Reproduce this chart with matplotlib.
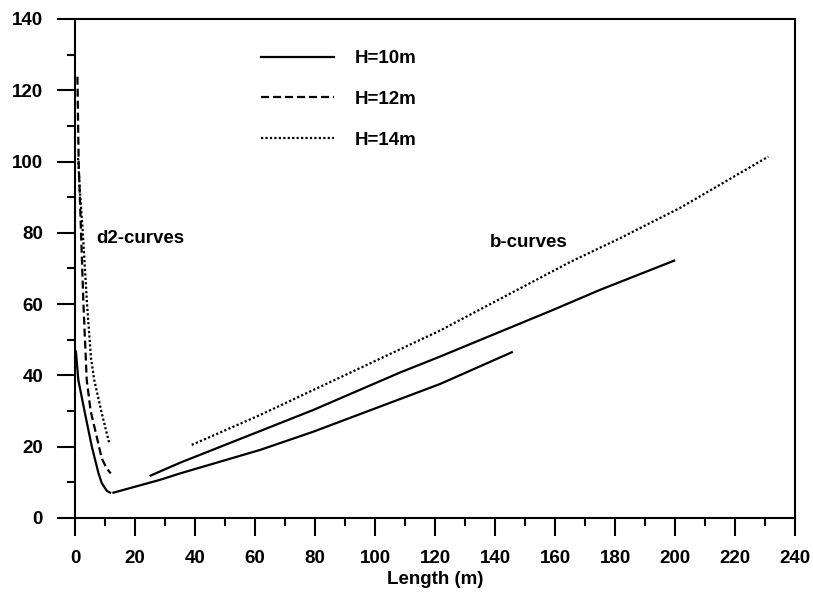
import matplotlib
matplotlib.use("Agg")
import matplotlib.pyplot as plt
from matplotlib.ticker import MultipleLocator

plt.rcParams['font.family'] = ['Liberation Sans', 'DejaVu Sans']
plt.rcParams['font.weight'] = 'bold'

# d2-curves (near x = 0)
d2_10_x = [0.3, 1.1, 3.3, 5.6, 7.8, 8.9, 10.6, 11.7]
d2_10_y = [46.7, 38.7, 29.4, 20.0, 12.6, 9.8, 7.6, 7.1]
d2_12_x = [0.8, 1.2, 2.0, 2.8, 3.9, 5.2, 6.7, 8.9, 10.5, 11.9]
d2_12_y = [123.8, 100.0, 80.0, 60.0, 38.7, 30.0, 24.7, 16.7, 14.0, 12.5]
d2_14_x = [1.0, 1.6, 2.6, 4.0, 5.3, 6.4, 8.9, 11.4]
d2_14_y = [101.0, 92.0, 80.0, 60.0, 45.0, 38.7, 29.4, 21.0]

# b-curves
b_10_x = [12.8, 28.3, 35.0, 61.7, 79.4, 121.7, 145.6]
b_10_y = [7.1, 10.7, 12.5, 19.1, 24.2, 37.6, 46.5]
b_12_x = [25.2, 35.0, 61.7, 79.4, 108.3, 121.7, 159.4, 175.0, 199.7]
b_12_y = [11.9, 15.5, 24.4, 30.3, 40.8, 45.3, 58.4, 64.0, 72.2]
b_14_x = [38.9, 61.7, 79.4, 121.7, 165.0, 181.7, 201.7, 231.1]
b_14_y = [20.5, 28.9, 35.9, 52.6, 71.8, 78.5, 87.0, 101.4]

labels = ["H=10m", "H=12m", "H=14m"]

lw = 1.6
solid = '-'
dashed = (0, (3.6, 1.8))
dotted = (0, (1, 1))

fig = plt.figure(figsize=(8.13, 5.93), dpi=100)
ax = fig.add_axes([0.0923, 0.1265, 0.8856, 0.8415])

ax.plot(d2_10_x, d2_10_y, color='black', lw=lw, ls=solid, label=labels[0])
ax.plot(d2_12_x, d2_12_y, color='black', lw=lw, ls=dashed, label=labels[1])
ax.plot(d2_14_x, d2_14_y, color='black', lw=lw, ls=dotted, label=labels[2])
ax.plot(b_10_x, b_10_y, color='black', lw=lw, ls=solid)
ax.plot(b_12_x, b_12_y, color='black', lw=lw, ls=solid)
ax.plot(b_14_x, b_14_y, color='black', lw=lw, ls=dotted)

ax.text(7, 78.3, "d2-curves", fontsize=13.5, fontweight='bold', va='center', ha='left')
ax.text(138.3, 77.4, "b-curves", fontsize=13.5, fontweight='bold', va='center', ha='left')

ax.set_xlim(0, 240)
ax.set_ylim(0, 140)
ax.xaxis.set_major_locator(MultipleLocator(20))
ax.xaxis.set_minor_locator(MultipleLocator(10))
ax.yaxis.set_major_locator(MultipleLocator(20))
ax.yaxis.set_minor_locator(MultipleLocator(10))
ax.tick_params(which='major', direction='out', length=13, width=1.5, labelsize=13.5, pad=10)
ax.tick_params(which='minor', direction='out', length=6, width=1.5)
ax.tick_params(top=False, right=False)
for s in ax.spines.values():
    s.set_linewidth(1.5)
for t in ax.get_xticklabels() + ax.get_yticklabels():
    t.set_fontweight('bold')

ax.set_xlabel("Length (m)", fontsize=13.5, fontweight='bold', labelpad=3)

leg = ax.legend(loc='upper left', bbox_to_anchor=(0.235, 0.971), frameon=False,
                fontsize=13.5, handlelength=3.9, handletextpad=1.1, labelspacing=1.25)
for t in leg.get_texts():
    t.set_fontweight('bold')

fig.savefig("out.png", dpi=100)
